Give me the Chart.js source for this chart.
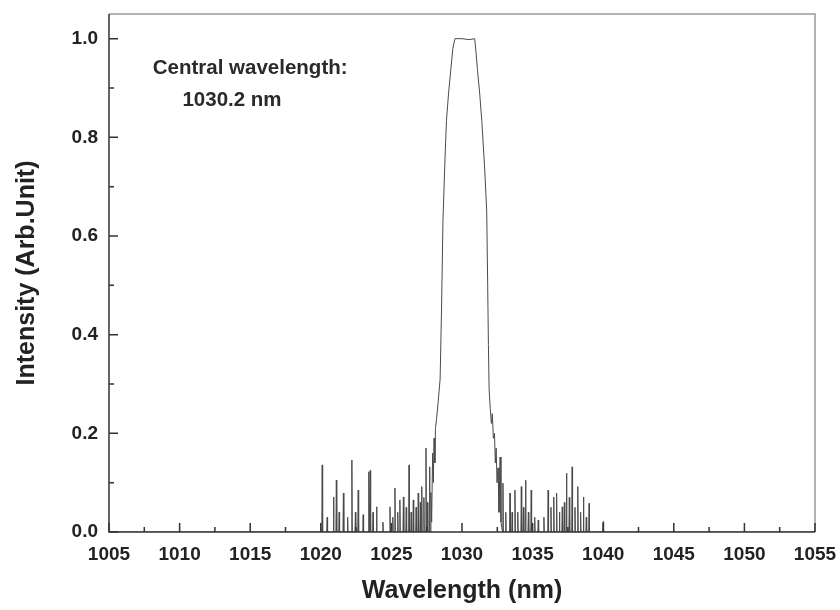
<!DOCTYPE html>
<html>
<head>
<meta charset="utf-8">
<script src="https://cdn.jsdelivr.net/npm/chart.js@4/dist/chart.umd.min.js"></script>
<style>
body { margin: 0; background: #fff; }
</style>
</head>
<body>
<canvas id="canvas1" width="840" height="610"></canvas>
<script>
// spectrum (nm, arb. unit)
var wavelength = [
  1005,
  1020.07, 1020.1, 1020.13, 1020.42, 1020.45, 1020.48, 1020.87, 1020.9, 1020.93,
  1021.07, 1021.1, 1021.13, 1021.27, 1021.3, 1021.33, 1021.57, 1021.6, 1021.63,
  1021.87, 1021.9, 1021.93, 1022.17, 1022.2, 1022.23, 1022.42, 1022.45, 1022.48,
  1022.62, 1022.65, 1022.68, 1022.97, 1023.0, 1023.03, 1023.37, 1023.4, 1023.43,
  1023.47, 1023.5, 1023.53, 1023.67, 1023.7, 1023.73, 1023.92, 1023.95, 1023.98,
  1024.37, 1024.4, 1024.43, 1024.87, 1024.9, 1024.93, 1025.07, 1025.1, 1025.13,
  1025.22, 1025.25, 1025.28, 1025.42, 1025.45, 1025.48, 1025.57, 1025.6, 1025.63,
  1025.82, 1025.85, 1025.88, 1026.02, 1026.05, 1026.08, 1026.22, 1026.25, 1026.28,
  1026.37, 1026.4, 1026.43, 1026.52, 1026.55, 1026.58, 1026.72, 1026.75, 1026.78,
  1026.87, 1026.9, 1026.93, 1027.02, 1027.05, 1027.08, 1027.12, 1027.15, 1027.18,
  1027.27, 1027.3, 1027.33, 1027.42, 1027.45, 1027.48, 1027.52, 1027.55, 1027.58,
  1027.67, 1027.7, 1027.73, 1027.77, 1027.8, 1027.85,
  1027.92, 1027.97, 1028.02, 1028.08, 1028.12, 1028.2, 1028.3, 1028.45, 1028.55,
  1028.65, 1028.8, 1028.9, 1029.05, 1029.2, 1029.35, 1029.5, 1030.0, 1030.5,
  1030.9, 1031.0, 1031.1, 1031.25, 1031.4, 1031.6, 1031.75, 1031.82, 1031.87,
  1031.92, 1032.0, 1032.08, 1032.15, 1032.22, 1032.3, 1032.36, 1032.42, 1032.48,
  1032.55, 1032.62, 1032.7, 1032.76,
  1032.87, 1032.9, 1032.93, 1033.07, 1033.1, 1033.13, 1033.37, 1033.4, 1033.43,
  1033.52, 1033.55, 1033.58, 1033.72, 1033.75, 1033.78, 1033.92, 1033.95, 1033.98,
  1034.17, 1034.2, 1034.23, 1034.32, 1034.35, 1034.38, 1034.47, 1034.5, 1034.53,
  1034.67, 1034.7, 1034.73, 1034.87, 1034.9, 1034.93, 1035.12, 1035.15, 1035.18,
  1035.37, 1035.4, 1035.43, 1035.77, 1035.8, 1035.83, 1036.07, 1036.1, 1036.13,
  1036.27, 1036.3, 1036.33, 1036.47, 1036.5, 1036.53, 1036.67, 1036.7, 1036.73,
  1036.87, 1036.9, 1036.93, 1037.07, 1037.1, 1037.13, 1037.22, 1037.25, 1037.28,
  1037.37, 1037.4, 1037.43, 1037.57, 1037.6, 1037.63, 1037.77, 1037.8, 1037.83,
  1037.97, 1038.0, 1038.03, 1038.17, 1038.2, 1038.23, 1038.37, 1038.4, 1038.43,
  1038.57, 1038.6, 1038.63, 1038.77, 1038.8, 1038.83, 1038.97, 1039.0, 1039.03,
  1039.97, 1040.0, 1040.03,
  1055
];
var intensity = [
  0,
  0, .136, 0, 0, .03, 0, 0, .071, 0,
  0, .105, 0, 0, .04, 0, 0, .079, 0,
  0, .03, 0, 0, .146, 0, 0, .04, 0,
  0, .085, 0, 0, .035, 0, 0, .122, 0,
  0, .125, 0, 0, .04, 0, 0, .051, 0,
  0, .02, 0, 0, .051, 0, 0, .03, 0,
  0, .089, 0, 0, .04, 0, 0, .065, 0,
  0, .071, 0, 0, .05, 0, 0, .136, 0,
  0, .04, 0, 0, .065, 0, 0, .05, 0,
  0, .079, 0, 0, .06, 0, 0, .092, 0,
  0, .07, 0, 0, .17, 0, 0, .06, 0,
  0, .132, 0, 0, .08, .02,
  .16, .10, .19, .14, .21, .23, .26, .31, .45,
  .63, .76, .834, .89, .935, .98, 1.0, 1.0, .998,
  1.0, .97, .935, .89, .834, .74, .65, .5, .38,
  .29, .25, .22, .24, .19, .2, .14, .17, .1,
  .13, .04, .152, .02,
  0, .099, 0, 0, .04, 0, 0, .079, 0,
  0, .04, 0, 0, .085, 0, 0, .04, 0,
  0, .092, 0, 0, .05, 0, 0, .105, 0,
  0, .04, 0, 0, .085, 0, 0, .03, 0,
  0, .024, 0, 0, .03, 0, 0, .085, 0,
  0, .05, 0, 0, .071, 0, 0, .079, 0,
  0, .04, 0, 0, .051, 0, 0, .06, 0,
  0, .119, 0, 0, .07, 0, 0, .132, 0,
  0, .05, 0, 0, .092, 0, 0, .04, 0,
  0, .071, 0, 0, .03, 0, 0, .058, 0,
  0, .021, 0,
  0
];
var xTicks = [1005, 1010, 1015, 1020, 1025, 1030, 1035, 1040, 1045, 1050, 1055];
var yTicks = [0, 0.2, 0.4, 0.6, 0.8, 1.0];
var noteLines = ['Central wavelength:', '1030.2 nm'];

var fnt = 'Liberation Sans, Arial, sans-serif';

var puntos = wavelength.map(function (w, i) { return {x: w, y: intensity[i]}; });

// marco y marcas hacia dentro, mas la nota
var marco = {
  id: 'marco',
  afterDatasetsDraw: function (chart) {
    var ctx = chart.ctx, a = chart.chartArea, sx = chart.scales.x, sy = chart.scales.y;
    ctx.save();
    ctx.lineWidth = 1.5;
    ctx.strokeStyle = '#9a9a9a';
    ctx.beginPath();
    ctx.moveTo(a.left, a.top); ctx.lineTo(a.right, a.top); ctx.lineTo(a.right, a.bottom);
    ctx.stroke();
    ctx.strokeStyle = '#333';
    ctx.beginPath();
    ctx.moveTo(a.left, a.top); ctx.lineTo(a.left, a.bottom); ctx.lineTo(a.right, a.bottom);
    ctx.stroke();
    ctx.beginPath();
    xTicks.forEach(function (v, i) {
      var px = sx.getPixelForValue(v);
      ctx.moveTo(px, a.bottom); ctx.lineTo(px, a.bottom - 9);
      if (i < xTicks.length - 1) {
        var pm = sx.getPixelForValue(v + 2.5);
        ctx.moveTo(pm, a.bottom); ctx.lineTo(pm, a.bottom - 5);
      }
    });
    yTicks.forEach(function (v) {
      var py = sy.getPixelForValue(v);
      ctx.moveTo(a.left, py); ctx.lineTo(a.left + 9, py);
      var pm = sy.getPixelForValue(v + 0.1);
      ctx.moveTo(a.left, pm); ctx.lineTo(a.left + 5, pm);
    });
    ctx.stroke();
    ctx.fillStyle = '#2a2a2a';
    ctx.font = 'bold 20.5px ' + fnt;
    ctx.textBaseline = 'middle';
    ctx.fillText(noteLines[0], sx.getPixelForValue(1008.1), sy.getPixelForValue(0.939));
    ctx.fillText(noteLines[1], sx.getPixelForValue(1010.2), sy.getPixelForValue(0.875));
    ctx.restore();
  }
};

var ctx = document.getElementById('canvas1').getContext('2d');
const MyChart = new Chart(ctx, {
  type: 'scatter',
  data: {
    datasets: [{
      label: 'Intensity',
      data: puntos,
      showLine: true,
      borderColor: '#4a4a4a',
      borderWidth: 1,
      pointRadius: 0,
      tension: 0
    }]
  },
  options: {
    responsive: false,
    animation: false,
    layout: { padding: { top: 14, right: 25, left: 0, bottom: 0 } },
    plugins: { legend: { display: false }, tooltip: { enabled: false } },
    scales: {
      x: {
        type: 'linear',
        min: 1005,
        max: 1055,
        afterFit: function (s) { s.height = 78; s.paddingLeft = 0; s.paddingRight = 0; },
        afterBuildTicks: function (s) { s.ticks = xTicks.map(function (v) { return {value: v}; }); },
        grid: { display: false, drawTicks: false },
        border: { display: false },
        ticks: { color: '#222', padding: 11, maxRotation: 0, autoSkip: false,
                 callback: function (v) { return String(v); },
                 font: { family: fnt, size: 19, weight: 'bold' } },
        title: { display: true, text: 'Wavelength (nm)', color: '#222', padding: { top: 0, bottom: 4 }, font: { family: fnt, size: 25, weight: 'bold' } }
      },
      y: {
        min: 0,
        max: 1.05,
        afterFit: function (s) { s.width = 109; s.paddingTop = 0; s.paddingBottom = 0; },
        afterBuildTicks: function (s) { s.ticks = yTicks.map(function (v) { return {value: v}; }); },
        grid: { display: false, drawTicks: false },
        border: { display: false },
        ticks: { color: '#222', padding: 11, callback: function (v) { return v.toFixed(1); }, font: { family: fnt, size: 19, weight: 'bold' } },
        title: { display: true, text: 'Intensity (Arb.Unit)', color: '#222', padding: { top: 12, bottom: 0 }, font: { family: fnt, size: 25, weight: 'bold' } }
      }
    }
  },
  plugins: [marco]
});
</script>
</body>
</html>
